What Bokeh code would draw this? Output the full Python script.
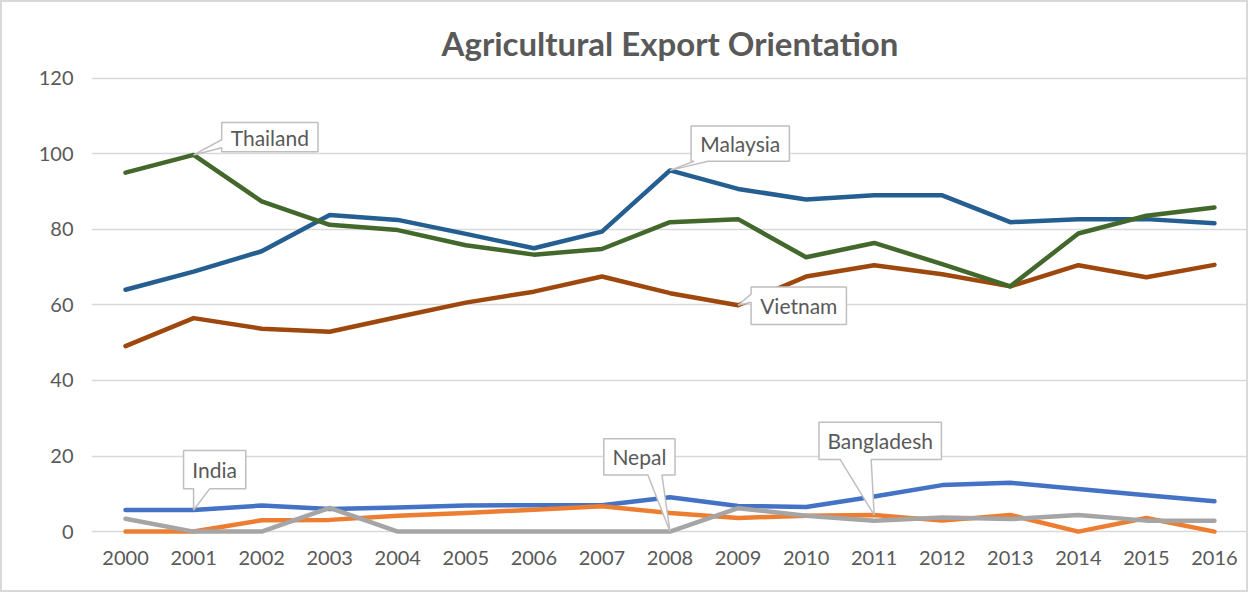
from bokeh.plotting import figure
from bokeh.models import Range1d, FixedTicker, Label
from bokeh.embed import file_html
from bokeh.resources import INLINE

# ---- data ----
years = [str(y) for y in range(2000, 2017)]
india = [5.7, 5.7, 6.9, 6.0, 6.4, 6.9, 7.0, 7.0, 9.1, 6.8, 6.5, 9.3, 12.3, 12.9, 11.3, 9.6, 8.0]
bangladesh = [0, 0, 3.0, 3.1, 4.2, 4.9, 5.8, 6.7, 4.9, 3.6, 4.2, 4.4, 2.9, 4.4, 0, 3.6, 0]
nepal = [3.4, 0, 0, 6.3, 0, 0, 0, 0, 0, 6.2, 4.2, 2.9, 3.7, 3.3, 4.4, 2.9, 2.9]
vietnam = [49.1, 56.5, 53.7, 52.9, 56.8, 60.6, 63.5, 67.5, 63.1, 59.9, 67.5, 70.5, 68.1, 64.9, 70.5, 67.3, 70.6]
malaysia = [64.0, 68.8, 74.2, 83.8, 82.5, 78.8, 75.0, 79.4, 95.6, 90.7, 87.9, 89.0, 89.0, 81.9, 82.7, 82.7, 81.6]
thailand = [95.0, 99.7, 87.4, 81.2, 79.8, 75.8, 73.3, 74.8, 81.9, 82.7, 72.6, 76.4, 70.8, 64.9, 78.9, 83.6, 85.8]
y_ticks = [0, 20, 40, 60, 80, 100, 120]
title = "Agricultural Export Orientation"

series = [
    ("India", india, "#4472C4"),
    ("Bangladesh", bangladesh, "#ED7D31"),
    ("Nepal", nepal, "#A5A5A5"),
    ("Vietnam", vietnam, "#9E480E"),
    ("Malaysia", malaysia, "#255E91"),
    ("Thailand", thailand, "#43682B"),
]

# ---- layout ----
W, H = 1248, 592
BORDER = 2
MBL, MBR, MBT, MBB = 89, 2, 74, 58
FONT = "Lato"
TXT = "#595959"
x_start, x_end = -0.5, len(years) - 0.5
y_start, y_end = -1.3, 120.45

p = figure(width=W, height=H, output_backend="svg", toolbar_location=None,
           x_range=Range1d(x_start, x_end), y_range=Range1d(y_start, y_end),
           min_border_left=MBL, min_border_right=MBR, min_border_top=MBT, min_border_bottom=MBB)
p.styles = {"border": f"{BORDER}px solid #d9d9d9", "box-sizing": "border-box"}

p.title.text = title
p.title.align = "center"
p.title.text_font = FONT
p.title.text_font_style = "bold"
p.title.text_font_size = "33px"
p.title.text_color = TXT
p.title.standoff = 28

p.outline_line_color = None
p.xgrid.grid_line_color = None
p.ygrid.grid_line_color = "#d9d9d9"
p.ygrid.grid_line_width = 1.5
p.ygrid.ticker = FixedTicker(ticks=y_ticks)

p.yaxis.ticker = FixedTicker(ticks=y_ticks)
p.xaxis.ticker = FixedTicker(ticks=list(range(len(years))))
p.xaxis.major_label_overrides = {i: y for i, y in enumerate(years)}
for ax in (p.xaxis[0], p.yaxis[0]):
    ax.axis_line_color = None
    ax.major_tick_line_color = None
    ax.minor_tick_line_color = None
    ax.major_label_text_font = FONT
    ax.major_label_text_font_size = "20px"
    ax.major_label_text_color = TXT
p.yaxis.major_label_standoff = 12
p.xaxis.major_label_standoff = 8

xs = list(range(len(years)))
for name, vals, col in series:
    p.line(xs, vals, line_color=col, line_width=4.5, line_cap="round", line_join="round")

# ---- callouts (box geometry in pixels relative to the anchor point) ----
frame_w = W - 2 * BORDER - MBL - MBR
frame_h = H - 2 * BORDER - MBT - MBB
xppu = frame_w / (x_end - x_start)
yppu = frame_h / (y_end - y_start)

values = {n: v for n, v, c in series}
# name, anchor year index, (left, right, top, bottom), tail edge, (base1, base2)
callouts = [
    ("Thailand", 1, (28, 124, -32, -3), "left", (-15, -7)),
    ("Malaysia", 8, (21, 119, -44, -9), "bottom", (24, 38)),
    ("Vietnam", 9, (13, 108, -18, 19), "left", (-11, -3)),
    ("India", 1, (-10, 52, -59, -21), "bottom", (0, 16)),
    ("Nepal", 8, (-66, 5, -92, -56), "bottom", (-22, -8)),
    ("Bangladesh", 11, (-55, 67, -92, -55), "bottom", (-34, -3)),
]
for name, i, (L, R, T, B), edge, (b1, b2) in callouts:
    v = values[name][i]
    pts = [(L, T), (R, T), (R, B)]
    if edge == "bottom":
        pts += [(b2, B), (0, 0), (b1, B)]
    pts += [(L, B)]
    if edge == "left":
        pts += [(L, b2), (0, 0), (L, b1)]
    px = [i + a / xppu for a, b in pts]
    py = [v - b / yppu for a, b in pts]
    p.patch(px, py, fill_color="white", line_color="#bfbfbf", line_width=1.5)
    p.add_layout(Label(x=i + (L + R) / 2 / xppu, y=v - (T + B) / 2 / yppu, text=name,
                       text_align="center", text_baseline="middle", text_font=FONT,
                       text_font_size="21px", text_color=TXT))

open("out.html", "w").write(file_html(p, INLINE))
